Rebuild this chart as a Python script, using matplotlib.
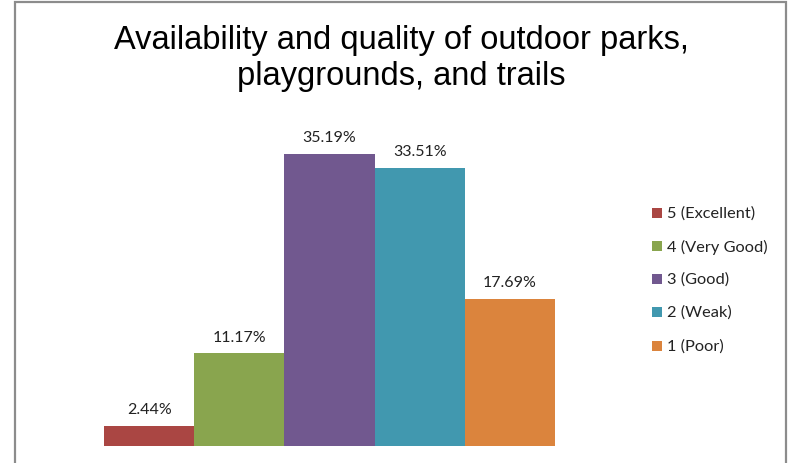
import matplotlib
matplotlib.use("Agg")
import matplotlib.pyplot as plt
from matplotlib.patches import Rectangle

categories = ["5 (Excellent)", "4 (Very Good)", "3 (Good)", "2 (Weak)", "1 (Poor)"]
values = [2.44, 11.17, 35.19, 33.51, 17.69]
labels = ["2.44%", "11.17%", "35.19%", "33.51%", "17.69%"]
colors = ["#AA4643", "#89A54E", "#71588F", "#4198AF", "#DB843D"]

W, H = 790, 464
fig = plt.figure(figsize=(W / 100, H / 100), dpi=100)

# outer frame
fig.patches.append(Rectangle((15 / W, -0.05), (786 - 15) / W, (H - 3) / H + 0.05,
                             transform=fig.transFigure, fill=False,
                             edgecolor="#8C8C8C", linewidth=1.6))

# axes: bars from x=104 to 555, baseline at y=447, 8.3 px per %
ymax = 40
left, right = 104, 555
bottom = 447
top = bottom - ymax * 8.3
ax = fig.add_axes([left / W, (H - bottom) / H, (right - left) / W, (bottom - top) / H])
ax.set_xlim(-0.5, 4.5)
ax.set_ylim(0, ymax)
for i, (v, c, lab, name) in enumerate(zip(values, colors, labels, categories)):
    ax.bar(i, v, width=1.0, color=c, label=name)
    ax.annotate(lab, (i, v), xytext=(0, 7), textcoords="offset points",
                ha="center", va="bottom", fontsize=11.5, family="Lato", color="#222222")
ax.axis("off")

fig.text(401 / W, 1 - 41 / H, "Availability and quality of outdoor parks,",
         ha="center", va="center", fontsize=23.5, family="Liberation Sans")
fig.text(401 / W, 1 - 77 / H, "playgrounds, and trails",
         ha="center", va="center", fontsize=23.5, family="Liberation Sans")

ys = [214, 247, 280, 313, 347]
for name, c, y in zip(categories, colors, ys):
    fig.patches.append(Rectangle((652 / W, 1 - (y + 5) / H), 10 / W, 10 / H,
                                 transform=fig.transFigure, facecolor=c, edgecolor="none"))
    fig.text(667 / W, 1 - y / H, name, ha="left", va="center", fontsize=11.8,
             family="Lato", color="#222222")

fig.savefig("out.png", dpi=100)
